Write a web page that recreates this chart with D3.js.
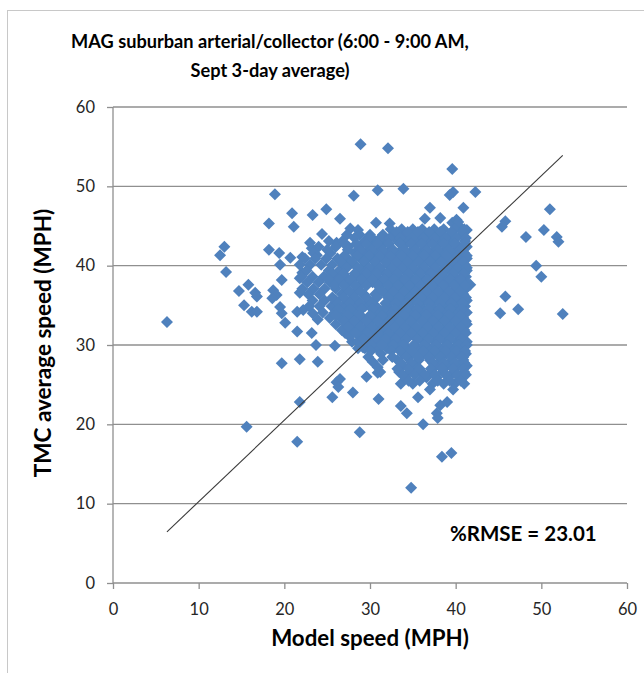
<!DOCTYPE html>
<html>
<head>
<meta charset="utf-8">
<script src="https://cdn.jsdelivr.net/npm/d3@7"></script>
<style>
  body { margin: 0; background: #fff; }
  text { font-family: Lato, "Liberation Sans", sans-serif; }
</style>
</head>
<body>
<div id="chart"></div>
<script>
var TITLE_LINES = ["MAG suburban arterial/collector (6:00 - 9:00 AM,", "Sept 3-day average)"];
var X_TITLE = "Model speed (MPH)";
var Y_TITLE = "TMC average speed (MPH)";
var RMSE_LABEL = "%RMSE = 23.01";
var X_TICKS = [0, 10, 20, 30, 40, 50, 60];
var Y_TICKS = [0, 10, 20, 30, 40, 50, 60];

// Scattered points outside the dense cloud, [model, tmc]
var OUTLIERS = [
  [28.9, 55.3], [32.1, 54.8], [39.6, 52.2], [30.9, 49.5], [33.9, 49.7], [28.1, 48.8],
  [39.7, 49.3], [39.3, 48.9], [42.3, 49.3], [40.9, 47.3], [37.0, 47.3], [24.9, 47.1],
  [23.3, 46.4], [20.9, 46.6], [26.5, 45.9], [30.7, 45.4], [32.3, 45.3], [36.4, 45.9],
  [38.2, 46.0], [39.6, 45.4], [40.1, 45.8], [41.3, 44.5], [40.3, 45.1], [18.9, 49.0],
  [18.2, 45.3], [21.1, 44.9], [24.4, 44.0], [27.7, 44.7], [28.6, 44.5], [23.0, 42.9],
  [26.1, 42.9], [18.2, 42.0], [19.4, 41.6], [20.7, 41.0], [19.5, 40.1], [19.7, 38.2],
  [21.8, 38.4], [22.1, 39.1], [15.8, 37.6], [14.7, 36.8], [16.6, 36.6], [16.8, 36.1],
  [18.7, 36.9], [19.1, 36.3], [18.6, 35.9], [15.3, 35.0], [16.2, 34.2], [16.8, 34.2],
  [19.5, 34.8], [19.7, 34.0], [21.5, 34.2], [20.1, 32.8], [21.5, 31.7], [6.3, 32.9],
  [13.0, 42.4], [12.5, 41.3], [13.2, 39.2], [22.1, 41.1], [23.2, 42.2], [23.8, 41.3],
  [25.0, 42.0], [26.1, 42.6], [21.8, 36.6], [22.2, 34.4], [23.3, 34.0], [23.9, 33.2],
  [23.2, 31.5], [23.7, 30.0], [25.9, 29.9], [19.7, 27.7], [21.8, 28.2], [23.9, 27.9],
  [21.8, 22.8], [15.6, 19.7], [21.5, 17.8], [26.1, 25.3], [26.5, 25.7], [26.3, 24.7],
  [25.6, 23.4], [28.0, 24.0], [29.6, 26.0], [30.9, 26.5], [31.2, 26.6], [30.9, 27.2],
  [31.0, 23.2], [28.8, 19.0], [33.6, 22.3], [34.3, 21.4], [35.6, 23.4], [36.2, 20.0],
  [38.2, 22.4], [39.0, 22.8], [37.8, 21.4], [37.9, 20.8], [38.4, 15.9], [39.5, 16.4],
  [34.8, 12.0], [27.1, 31.5], [27.9, 30.4], [28.6, 29.6], [29.2, 29.7], [29.8, 28.5],
  [30.3, 27.9], [31.5, 28.1], [40.3, 45.5], [45.8, 45.6], [45.4, 44.9], [51.0, 47.1],
  [50.3, 44.5], [48.2, 43.6], [51.8, 43.6], [52.0, 43.0], [49.4, 40.0], [50.0, 38.6],
  [41.7, 37.6], [45.8, 36.1], [45.2, 34.0], [47.3, 34.5], [52.5, 33.9], [40.9, 28.5]
];

// The dense cloud, read row by row: [tmc, model, model, ...]
var CLOUD_ROWS = [
  [44.6, 32.4, 33.7, 35.0, 36.1, 37.5, 38.6, 39.9, 41.0],
  [43.9, 27.3, 28.8, 30.0, 31.5, 32.9, 34.2, 35.5, 36.8, 38.1, 39.4, 40.7],
  [43.1, 25.2, 26.8, 29.4, 30.6, 31.9, 33.2, 34.5, 35.8, 37.1, 38.4, 39.7, 41.1],
  [42.4, 24.0, 26.0, 27.5, 28.8, 30.1, 31.3, 33.9, 35.2, 36.5, 37.8, 39.1, 40.4, 41.3],
  [41.6, 23.4, 25.4, 28.2, 29.5, 30.8, 32.0, 33.3, 34.6, 35.9, 37.2, 38.5, 39.8, 41.0],
  [40.9, 22.4, 23.6, 24.9, 26.2, 27.4, 28.9, 30.2, 31.5, 32.8, 34.0, 35.3, 36.6, 37.9, 39.2, 40.5, 41.3],
  [40.1, 21.8, 23.0, 24.3, 25.6, 26.9, 28.2, 29.5, 30.8, 32.1, 33.4, 34.7, 36.0, 37.3, 38.6, 39.9, 41.1],
  [39.4, 22.6, 25.2, 26.4, 28.9, 30.2, 31.4, 32.7, 34.0, 35.3, 36.6, 37.9, 39.2, 40.5, 41.3],
  [38.6, 22.0, 23.3, 24.6, 25.9, 27.2, 28.4, 29.6, 30.8, 32.1, 33.4, 34.7, 36.0, 37.3, 38.6, 39.9, 41.2],
  [37.9, 22.7, 24.0, 25.3, 26.6, 27.9, 29.1, 30.3, 31.5, 32.8, 34.0, 35.3, 36.6, 37.9, 39.2, 40.5, 41.3],
  [37.1, 22.1, 23.4, 24.7, 26.0, 27.3, 28.6, 31.2, 32.4, 33.7, 35.0, 36.2, 37.5, 38.8, 40.1, 41.2],
  [36.4, 22.8, 24.1, 26.7, 28.0, 29.3, 30.6, 31.9, 33.1, 34.4, 35.7, 37.0, 38.3, 39.6, 40.9],
  [35.6, 23.3, 24.7, 26.0, 27.3, 28.6, 29.9, 32.5, 33.8, 35.1, 36.4, 37.7, 39.0, 40.3, 41.3],
  [34.9, 22.9, 24.1, 25.5, 26.8, 28.1, 29.4, 30.7, 32.0, 33.3, 34.6, 35.9, 37.2, 38.5, 39.8, 41.1],
  [34.1, 24.5, 25.9, 27.2, 28.5, 31.1, 32.4, 33.7, 35.0, 36.3, 37.6, 38.9, 40.2, 41.3],
  [33.4, 25.3, 26.6, 27.9, 29.2, 30.5, 31.8, 33.1, 34.4, 35.7, 37.0, 38.3, 39.6, 40.9],
  [32.6, 26.0, 27.3, 28.6, 29.9, 31.2, 32.5, 33.8, 35.1, 36.4, 37.7, 39.0, 40.3, 41.3],
  [31.9, 26.7, 28.0, 29.3, 30.6, 31.9, 33.2, 34.5, 35.8, 37.1, 38.4, 39.7, 41.0],
  [31.1, 27.6, 28.9, 30.2, 31.5, 32.8, 34.1, 35.4, 36.7, 38.0, 39.3, 40.6],
  [30.4, 28.6, 29.8, 31.0, 32.3, 33.6, 36.2, 37.5, 38.8, 40.1, 41.3],
  [29.6, 29.4, 30.8, 32.0, 33.2, 34.4, 35.6, 36.9, 38.2, 39.5, 40.8],
  [28.9, 31.3, 33.8, 35.0, 36.3, 37.6, 38.9, 40.2, 41.2],
  [28.1, 33.2, 35.7, 37.0, 38.3, 39.6, 40.9],
  [27.4, 33.8, 35.1, 37.7, 39.0, 40.3, 41.3],
  [26.6, 33.4, 34.6, 35.9, 37.2, 38.5, 39.8, 41.0],
  [25.9, 34.1, 36.6, 37.8, 39.2, 40.5],
  [25.1, 33.6, 35.0, 37.3, 38.6, 39.9, 41.0],
  [24.4, 37.0, 39.7]
];

// More points of the cloud, read between the rows above
var CLOUD_ROWS_B = [
  [44.25, 33.1, 34.4, 35.6, 36.9, 38.2, 39.5, 40.8],
  [43.5, 28.2, 29.9, 31.2, 32.3, 33.6, 34.9, 36.2, 37.5, 38.8, 40.1, 41.2],
  [42.75, 27.0, 28.4, 29.6, 30.9, 32.2, 33.5, 34.8, 36.0, 37.3, 38.6, 39.9, 41.1],
  [42.0, 27.4, 28.9, 30.2, 31.5, 32.7, 34.0, 35.3, 36.6, 37.9, 39.2, 40.5],
  [41.25, 27.0, 28.5, 29.9, 31.1, 32.4, 33.7, 35.0, 36.3, 37.6, 38.9, 40.2, 41.3],
  [40.5, 26.6, 27.9, 29.3, 30.6, 31.8, 33.1, 34.4, 35.7, 37.0, 38.3, 39.6, 40.9],
  [39.75, 27.3, 28.6, 29.9, 31.1, 32.5, 33.8, 35.0, 36.3, 37.6, 38.9, 40.2, 41.3],
  [39.0, 25.6, 26.9, 28.2, 29.5, 30.8, 32.0, 33.2, 34.5, 35.8, 37.1, 38.4, 39.7, 41.0],
  [38.25, 25.2, 26.4, 27.8, 29.1, 30.3, 31.6, 32.8, 34.1, 35.4, 36.7, 38.0, 39.3, 40.6],
  [37.5, 25.8, 27.0, 28.3, 29.6, 30.9, 32.1, 33.3, 34.6, 35.9, 37.2, 38.5, 39.8, 41.1],
  [36.75, 27.6, 28.9, 31.4, 32.7, 34.0, 35.3, 36.6, 37.9, 39.2, 40.5],
  [36.0, 25.6, 26.9, 28.2, 29.6, 30.8, 32.1, 33.4, 34.7, 36.0, 37.3, 38.6, 39.9, 41.2],
  [35.25, 26.2, 27.6, 28.9, 30.2, 31.8, 33.0, 34.3, 35.6, 36.9, 38.2, 39.5, 40.8],
  [34.5, 26.3, 27.7, 29.0, 30.3, 31.6, 32.9, 34.2, 35.5, 36.8, 38.1, 39.4, 40.7],
  [33.75, 26.0, 27.4, 28.8, 30.0, 31.4, 32.7, 34.0, 35.3, 36.6, 37.9, 39.2, 40.5],
  [33.0, 27.0, 28.2, 29.6, 30.9, 32.2, 33.5, 34.8, 36.1, 37.4, 38.7, 40.0, 41.2],
  [32.25, 27.5, 28.9, 30.2, 31.6, 32.9, 34.1, 35.4, 36.7, 38.0, 39.3, 40.6],
  [31.5, 28.3, 29.7, 31.0, 32.2, 33.6, 34.8, 36.1, 37.4, 38.7, 40.0, 41.2],
  [30.75, 29.2, 30.5, 31.8, 33.0, 34.3, 35.5, 36.8, 38.1, 39.4, 40.7],
  [30.0, 30.2, 31.4, 32.7, 33.9, 35.1, 36.4, 37.7, 39.0, 40.3, 41.3],
  [29.25, 30.1, 32.5, 33.6, 34.9, 36.2, 37.5, 38.8, 40.1, 41.1],
  [28.5, 32.6, 34.3, 35.6, 36.9, 38.2, 39.5, 40.7],
  [27.75, 33.6, 34.8, 37.3, 38.6, 39.9, 41.0],
  [27.0, 33.2, 34.5, 35.8, 37.1, 38.4, 39.7, 40.9],
  [26.25, 33.8, 35.2, 36.4, 37.6, 38.9, 40.2, 41.2],
  [25.5, 34.5, 35.8, 37.9, 39.3, 40.6]
];

// Reference line, over the range of model speeds
var REF_LINE = [[6.3, 6.45], [52.5, 53.9]];

var W = 644, H = 673;
var GRID_COLOR = "#8f8f8f";
var POINT_COLOR = "#4f81bd";

function chart__all_points() {
  var pts = OUTLIERS.slice();
  CLOUD_ROWS.concat(CLOUD_ROWS_B).forEach(function (row) {
    row.slice(1).forEach(function (x) {
      pts.push([x, row[0]]);
    });
  });
  return pts;
}

function chart__draw() {
  var svg = d3.select("#chart").append("svg")
    .attr("width", W)
    .attr("height", H);

  // chart area border
  svg.append("rect")
    .attr("x", 7.5).attr("y", 10.5)
    .attr("width", W).attr("height", H)
    .attr("fill", "#fff")
    .attr("stroke", "#c8c8c8");

  var x = d3.scaleLinear().domain([0, 60]).range([113, 627]);
  var y = d3.scaleLinear().domain([0, 60]).range([583, 107]);

  // horizontal gridlines
  svg.append("g")
    .selectAll("line")
    .data(Y_TICKS.slice(1))
    .join("line")
    .attr("x1", x(0)).attr("x2", x(60))
    .attr("y1", function (d) { return y(d); })
    .attr("y2", function (d) { return y(d); })
    .attr("stroke", GRID_COLOR)
    .attr("stroke-width", 1.3);

  var x_axis = svg.append("g")
    .attr("transform", "translate(0," + y(0) + ")")
    .call(d3.axisBottom(x).tickValues(X_TICKS).tickSize(6).tickPadding(14));

  var y_axis = svg.append("g")
    .attr("transform", "translate(" + x(0) + ",0)")
    .call(d3.axisLeft(y).tickValues(Y_TICKS).tickSize(6).tickPadding(12));

  [x_axis, y_axis].forEach(function (ax) {
    ax.select(".domain").attr("stroke", GRID_COLOR).attr("stroke-width", 1.3);
    ax.selectAll(".tick line").attr("stroke", GRID_COLOR).attr("stroke-width", 1.3);
    ax.selectAll(".tick text")
      .attr("fill", "#262626")
      .style("font-size", "16.5px")
      .style("font-family", "Lato, sans-serif");
  });
  x_axis.select(".domain").attr("d", "M" + x(0) + ",0H" + x(60));
  y_axis.select(".domain").attr("d", "M0," + y(0) + "V" + y(60));

  // markers
  var diamond = "M0,-6L6,0L0,6L-6,0Z";
  svg.append("g")
    .selectAll("path")
    .data(chart__all_points())
    .join("path")
    .attr("d", diamond)
    .attr("transform", function (d) {
      return "translate(" + x(d[0]) + "," + y(d[1]) + ")";
    })
    .attr("fill", POINT_COLOR);

  // reference line on top of the markers
  svg.append("path")
    .datum(REF_LINE)
    .attr("d", d3.line()
      .x(function (d) { return x(d[0]); })
      .y(function (d) { return y(d[1]); }))
    .attr("fill", "none")
    .attr("stroke", "#3a3a3a")
    .attr("stroke-width", 1.1);

  // titles
  svg.append("text")
    .attr("x", 270).attr("y", 48)
    .attr("text-anchor", "middle")
    .style("font-size", "18.2px").style("font-weight", "bold")
    .selectAll("tspan")
    .data(TITLE_LINES)
    .join("tspan")
    .attr("x", 270)
    .attr("dy", function (d, i) { return i === 0 ? 0 : 29; })
    .text(function (d) { return d; });

  svg.append("text")
    .attr("x", 370).attr("y", 646)
    .attr("text-anchor", "middle")
    .style("font-size", "22.3px").style("font-weight", "bold")
    .text(X_TITLE);

  svg.append("text")
    .attr("transform", "translate(51,343) rotate(-90)")
    .attr("text-anchor", "middle")
    .style("font-size", "22.5px").style("font-weight", "bold")
    .text(Y_TITLE);

  svg.append("text")
    .attr("x", 450).attr("y", 541)
    .style("font-size", "20.5px").style("font-weight", "bold")
    .text(RMSE_LABEL);
}

chart__draw();
</script>
</body>
</html>
